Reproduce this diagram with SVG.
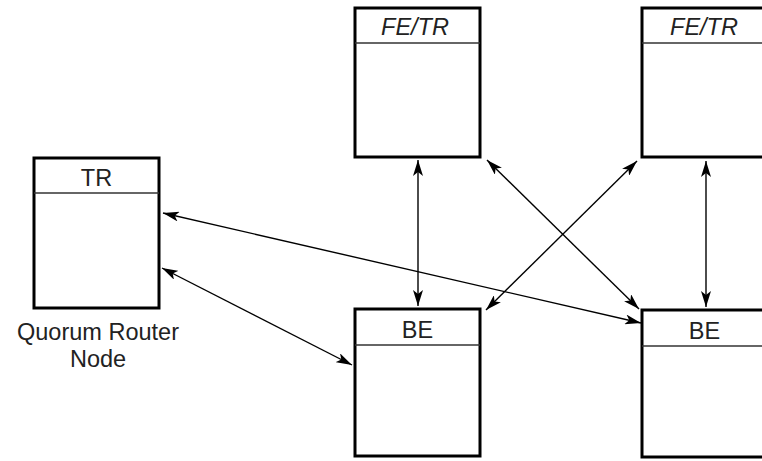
<svg xmlns="http://www.w3.org/2000/svg" width="762" height="461" viewBox="0 0 762 461">
<style>
.box{fill:#fff;stroke:#000;stroke-width:3}
.hdr{stroke:#333;stroke-width:1.5}
.lbl{font-family:"Liberation Sans",Arial,sans-serif;font-size:23.5px;fill:#222;text-anchor:middle}
.it{font-style:italic}
.con{stroke:#000;stroke-width:1.4;fill:none;marker-start:url(#ah);marker-end:url(#ah)}
</style>
<defs>
<marker id="ah" viewBox="0 0 16 10" refX="16" refY="5" markerWidth="16" markerHeight="10" markerUnits="userSpaceOnUse" orient="auto-start-reverse">
<path d="M0,0 L16,5 L0,10 L4,5 z" fill="#000"/>
</marker>
</defs>
<rect width="762" height="461" fill="#fff"/>
<g id="node-tr">
<rect class="box" x="34" y="158" width="125" height="150"/>
<line class="hdr" x1="34" y1="193" x2="159" y2="193"/>
<text class="lbl" x="96.5" y="186">TR</text>
<text class="lbl" x="98" y="340">Quorum Router</text>
<text class="lbl" x="98" y="367">Node</text>
</g>
<g id="node-fe1">
<rect class="box" x="355" y="8" width="125" height="149"/>
<line class="hdr" x1="355" y1="43" x2="480" y2="43"/>
<text class="lbl it" x="415" y="35">FE/TR</text>
</g>
<g id="node-fe2">
<rect class="box" x="642" y="8" width="125" height="149"/>
<line class="hdr" x1="642" y1="43" x2="767" y2="43"/>
<text class="lbl it" x="704" y="35">FE/TR</text>
</g>
<g id="node-be1">
<rect class="box" x="355" y="309" width="125" height="147"/>
<line class="hdr" x1="355" y1="345" x2="480" y2="345"/>
<text class="lbl" x="417.5" y="338">BE</text>
</g>
<g id="node-be2">
<rect class="box" x="642" y="310" width="125" height="147"/>
<line class="hdr" x1="642" y1="346" x2="767" y2="346"/>
<text class="lbl" x="704.5" y="339">BE</text>
</g>
<g id="connectors">
<line class="con" x1="163" y1="213" x2="641" y2="323"/>
<line class="con" x1="162" y1="268" x2="352" y2="365"/>
<line class="con" x1="418" y1="160" x2="418" y2="306"/>
<line class="con" x1="706" y1="161" x2="706" y2="307"/>
<line class="con" x1="487" y1="160" x2="639" y2="309"/>
<line class="con" x1="486" y1="310" x2="637" y2="161"/>
</g>
</svg>
